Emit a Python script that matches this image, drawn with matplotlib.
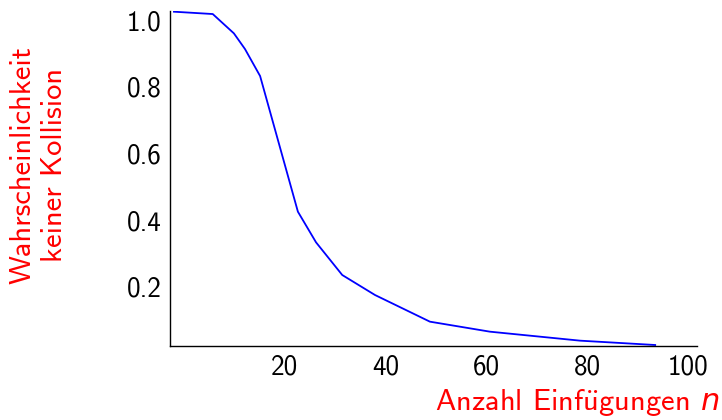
import matplotlib
matplotlib.use("Agg")
import matplotlib.pyplot as plt

# values
n_values = [-2.0, 5.7, 9.9, 12.1, 15.1, 22.6, 26.2, 31.4, 37.9, 48.8, 60.7, 78.6, 93.5]
p_no_collision = [1.025, 1.018, 0.960, 0.913, 0.832, 0.425, 0.333, 0.235, 0.175, 0.095, 0.065, 0.038, 0.025]
x_ticks = [20, 40, 60, 80, 100]
y_ticks = [0.2, 0.4, 0.6, 0.8, 1.0]

plt.rcParams["font.family"] = ["cmss10", "DejaVu Sans"]
plt.rcParams["mathtext.fontset"] = "custom"
plt.rcParams["mathtext.rm"] = "cmss10"
plt.rcParams["mathtext.sf"] = "cmss10"
plt.rcParams["mathtext.it"] = "DejaVu Sans:italic"
plt.rcParams["axes.unicode_minus"] = False

fig = plt.figure(figsize=(7.22, 4.20), dpi=100)
ax = fig.add_axes([170 / 722, 1 - 346 / 420, (697 - 170) / 722, (346 - 10.7) / 420])

ax.plot(n_values, p_no_collision, color="blue", linewidth=1.3)

ax.set_xlim(-2.78, 101.8)
ax.set_ylim(0.022, 1.028)
ax.set_xticks(x_ticks)
ax.set_yticks(y_ticks)
ax.set_xticklabels([str(t) for t in x_ticks])
ax.set_yticklabels(["%.1f" % t for t in y_ticks])
ax.tick_params(length=0, labelsize=19.5, pad=6)

for side in ["top", "right"]:
    ax.spines[side].set_visible(False)
for side in ["left", "bottom"]:
    ax.spines[side].set_linewidth(1.0)

fig.text(720 / 722, 1 - 403 / 420, r"Anzahl Einf$\ddot{\mathrm{u}}$gungen $n$",
         color="red", fontsize=22, ha="right", va="center")
fig.text(39 / 722, 1 - 165 / 420, "Wahrscheinlichkeit\nkeiner Kollision",
         color="red", fontsize=22, rotation=90, ha="center", va="center",
         multialignment="center", linespacing=1.2)

fig.savefig("out.png", dpi=100)
